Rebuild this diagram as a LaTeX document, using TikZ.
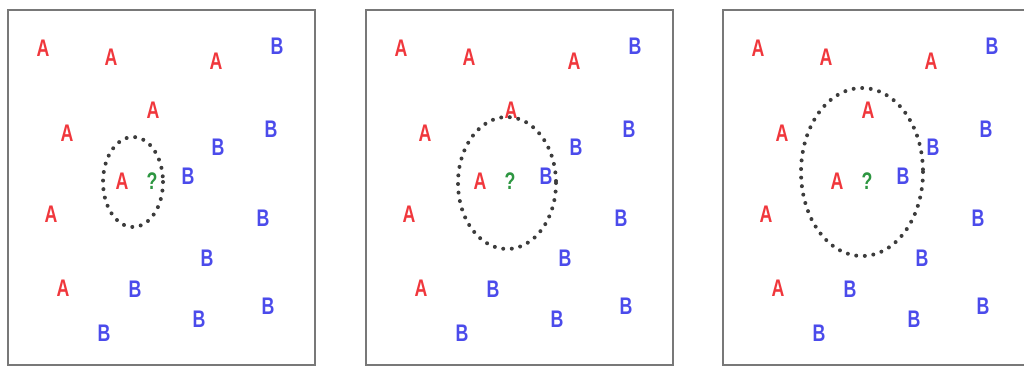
\documentclass[tikz,border=0pt]{standalone}
\usepackage{fontspec}
\setmainfont{Liberation Sans}
\usepackage{graphicx}
\usepackage{xcolor}
\definecolor{classred}{RGB}{240, 55, 60}
\definecolor{classblue}{RGB}{75, 75, 235}
\definecolor{querygreen}{RGB}{45, 150, 65}
\definecolor{framegray}{RGB}{120, 120, 120}
\definecolor{dotgray}{RGB}{60, 60, 60}
\newcommand{\narrow}[1]{\scalebox{0.74}[1]{#1}}

\begin{document}
\begin{tikzpicture}[
  x=1pt, y=-1pt,
  font=\fontsize{24}{24}\selectfont\bfseries,
  panel/.style={draw=framegray, line width=2.8pt},
  pta/.style={text=classred, inner sep=0pt},
  ptb/.style={text=classblue, inner sep=0pt},
  query/.style={text=querygreen, inner sep=0pt},
  hood/.style={draw=dotgray, line width=4pt, line cap=round,
    dash pattern=on 0pt off 8.6pt}
]
\useasboundingbox (0,0) rectangle (1024,367);

\foreach \p/\dx/\cx/\cy/\rx/\ry in {1/0/133/182/30/45, 2/358/507/183/49/66, 3/715/862/172/61/84}{
  \begin{scope}[xshift=\dx]
    \draw[panel] (8,10) rectangle (315,365);
    % class A
    \foreach \x/\y [count=\i] in {43/48, 111/57, 216/61, 153/110, 67/133, 122/181, 51/214, 63/288}
      \node[pta] (p\p-a\i) at (\x,\y) {\narrow{A}};
    % class B
    \foreach \x/\y [count=\i] in {277/46, 271/129, 218/147, 188/176, 263/218, 207/258, 135/289, 268/306, 199/319, 104/333}
      \node[ptb] (p\p-b\i) at (\x,\y) {\narrow{B}};
    \node[query] (p\p-q) at (152,181) {\narrow{?}};
  \end{scope}
  % neighbourhood of the query point
  \draw[hood] (\cx,\cy) ellipse [x radius=\rx, y radius=\ry];
}
\end{tikzpicture}
\end{document}
